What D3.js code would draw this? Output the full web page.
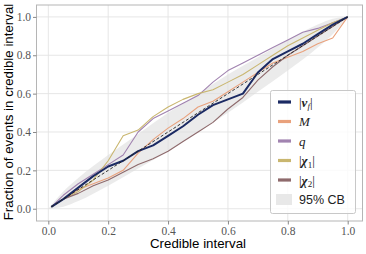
<!DOCTYPE html>
<html>
<head>
<meta charset="utf-8">
<script src="https://cdn.jsdelivr.net/npm/d3@7"></script>
<style>
  body { margin: 0; background: #fff; }
  svg { display: block; }
</style>
</head>
<body>
<script>
// credible interval grid
var xs = [0.01, 0.05, 0.10, 0.15, 0.20, 0.25, 0.30, 0.35, 0.40, 0.45, 0.50,
          0.55, 0.60, 0.65, 0.70, 0.75, 0.80, 0.85, 0.90, 0.95, 1.00];

// fraction of events for each parameter
var vf   = [0.01, 0.05, 0.11, 0.17, 0.22, 0.25, 0.30, 0.33, 0.38, 0.43, 0.49,
            0.54, 0.57, 0.60, 0.71, 0.78, 0.82, 0.86, 0.91, 0.96, 1.00];
var mass = [0.01, 0.05, 0.10, 0.13, 0.16, 0.20, 0.29, 0.36, 0.42, 0.47, 0.53,
            0.56, 0.61, 0.66, 0.71, 0.76, 0.79, 0.82, 0.86, 0.89, 1.00];
var q    = [0.01, 0.07, 0.13, 0.18, 0.23, 0.28, 0.40, 0.47, 0.51, 0.55, 0.59,
            0.66, 0.72, 0.76, 0.80, 0.84, 0.88, 0.92, 0.94, 0.97, 1.00];
var chi1 = [0.01, 0.05, 0.09, 0.15, 0.25, 0.38, 0.41, 0.48, 0.53, 0.57, 0.60,
            0.62, 0.66, 0.70, 0.75, 0.80, 0.85, 0.89, 0.93, 0.97, 1.00];
var chi2 = [0.01, 0.05, 0.08, 0.12, 0.15, 0.19, 0.23, 0.26, 0.30, 0.35, 0.40,
            0.45, 0.52, 0.58, 0.67, 0.74, 0.80, 0.85, 0.90, 0.95, 1.00];

// 95% credible band
var bandX     = [0.00, 0.05, 0.10, 0.20, 0.30, 0.40, 0.50, 0.60, 0.70, 0.80, 0.90, 0.95, 1.00];
var bandLower = [0.00, 0.01, 0.04, 0.12, 0.21, 0.30, 0.40, 0.50, 0.61, 0.72, 0.84, 0.91, 1.00];
var bandUpper = [0.00, 0.09, 0.16, 0.28, 0.39, 0.50, 0.60, 0.70, 0.79, 0.88, 0.96, 0.99, 1.00];

var ticks = [0.0, 0.2, 0.4, 0.6, 0.8, 1.0];
var seriesColors = ["#1b2a63", "#e9a17c", "#a183b0", "#c9b66f", "#8e6a6c"];

var series = [
  { values: vf,   color: seriesColors[0], width: 2.0 },
  { values: mass, color: seriesColors[1], width: 1.1 },
  { values: q,    color: seriesColors[2], width: 1.1 },
  { values: chi1, color: seriesColors[3], width: 1.1 },
  { values: chi2, color: seriesColors[4], width: 1.1 }
];

var width = 366, height = 254;

var svg = d3.select("body").append("svg")
  .attr("width", width)
  .attr("height", height);

var x = d3.scaleLinear().domain([-0.0395, 1.0495]).range([36.5, 362.5]);
var y = d3.scaleLinear().domain([-0.064, 1.062]).range([221, 5]);

// grid
svg.append("g").selectAll("line.gx")
  .data(ticks).enter().append("line")
    .attr("x1", function(d) { return x(d); })
    .attr("x2", function(d) { return x(d); })
    .attr("y1", y.range()[0]).attr("y2", y.range()[1])
    .attr("stroke", "#e3e3e3").attr("stroke-width", 0.9);
svg.append("g").selectAll("line.gy")
  .data(ticks).enter().append("line")
    .attr("y1", function(d) { return y(d); })
    .attr("y2", function(d) { return y(d); })
    .attr("x1", x.range()[0]).attr("x2", x.range()[1])
    .attr("stroke", "#e3e3e3").attr("stroke-width", 0.9);

// band
var area = d3.area()
  .x(function(d, i) { return x(bandX[i]); })
  .y0(function(d, i) { return y(bandLower[i]); })
  .y1(function(d, i) { return y(bandUpper[i]); })
  .curve(d3.curveMonotoneX);
svg.append("path")
  .datum(bandX)
  .attr("d", area)
  .attr("fill", "#dedede")
  .attr("fill-opacity", 0.6);

// lines, navy on top
var line = d3.line()
  .x(function(d, i) { return x(xs[i]); })
  .y(function(d) { return y(d); });

var drawOrder = [1, 2, 3, 4, 0];
drawOrder.forEach(function(k) {
  svg.append("path")
    .datum(series[k].values)
    .attr("d", line)
    .attr("fill", "none")
    .attr("stroke", series[k].color)
    .attr("stroke-width", series[k].width)
    .attr("stroke-linejoin", "round");
});

// diagonal
svg.append("line")
  .attr("x1", x(0.01)).attr("y1", y(0.01))
  .attr("x2", x(1)).attr("y2", y(1))
  .attr("stroke", "#222").attr("stroke-width", 0.9)
  .attr("stroke-dasharray", "3,2");

// frame
svg.append("rect")
  .attr("x", x.range()[0]).attr("y", y.range()[1])
  .attr("width", x.range()[1] - x.range()[0])
  .attr("height", y.range()[0] - y.range()[1])
  .attr("fill", "none").attr("stroke", "#b5b5b5").attr("stroke-width", 1);

// axes
var xAxis = d3.axisBottom(x).tickValues(ticks).tickSize(3.5).tickPadding(2)
  .tickFormat(d3.format(".1f"));
var yAxis = d3.axisLeft(y).tickValues(ticks).tickSize(3.5).tickPadding(2)
  .tickFormat(d3.format(".1f"));

var gx = svg.append("g").attr("transform", "translate(0," + y.range()[0] + ")").call(xAxis);
var gy = svg.append("g").attr("transform", "translate(" + x.range()[0] + ",0)").call(yAxis);
[gx, gy].forEach(function(g) {
  g.select(".domain").remove();
  g.selectAll(".tick line").attr("stroke", "#888");
  g.selectAll(".tick text")
    .attr("fill", "#555")
    .style("font-family", "'Liberation Serif', 'DejaVu Serif', serif")
    .style("font-size", "11.5px");
});

svg.append("text")
  .attr("x", 198).attr("y", 248)
  .attr("text-anchor", "middle")
  .style("font-family", "'Liberation Sans', Arial, sans-serif")
  .style("font-size", "13.3px")
  .text("Credible interval");

svg.append("text")
  .attr("transform", "translate(13," + 112 + ") rotate(-90)")
  .attr("text-anchor", "middle")
  .style("font-family", "'Liberation Sans', Arial, sans-serif")
  .style("font-size", "13.3px")
  .text("Fraction of events in credible interval");

// legend
var legend = svg.append("g");
legend.append("rect")
  .attr("x", 270.5).attr("y", 90.5)
  .attr("width", 85).attr("height", 123)
  .attr("rx", 2)
  .attr("fill", "#fff").attr("fill-opacity", 0.8)
  .attr("stroke", "#c8c8c8").attr("stroke-width", 1);

var rowY = [102, 121.5, 141, 160.5, 180, 199.5];
var serif = "'Liberation Serif', 'DejaVu Serif', serif";

series.forEach(function(s, i) {
  legend.append("line")
    .attr("x1", 278).attr("x2", 291)
    .attr("y1", rowY[i]).attr("y2", rowY[i])
    .attr("stroke", s.color).attr("stroke-width", 3.2);
});

// math labels: [text, bold, subscript]
var legendLabels = [
  { bars: true,  main: "v", sub: "f", bold: true },
  { bars: false, main: "M", sub: "",  bold: false },
  { bars: false, main: "q", sub: "",  bold: false },
  { bars: true,  main: "\u03c7", sub: "1", bold: true },
  { bars: true,  main: "\u03c7", sub: "2", bold: true }
];

legendLabels.forEach(function(l, i) {
  var t = legend.append("text")
    .attr("x", 299).attr("y", rowY[i] + 4.5)
    .style("font-family", serif)
    .style("font-size", "13px")
    .attr("fill", "#222");
  if (l.bars) t.append("tspan").text("|");
  t.append("tspan")
    .style("font-style", "italic")
    .style("font-weight", l.bold ? "bold" : "normal")
    .text(l.main);
  if (l.sub) {
    t.append("tspan")
      .attr("dy", 2.5)
      .style("font-size", "9px")
      .style("font-style", l.sub === "f" ? "italic" : "normal")
      .text(l.sub);
    t.append("tspan").attr("dy", -2.5).text("|");
  } else if (l.bars) {
    t.append("tspan").text("|");
  }
});

legend.append("rect")
  .attr("x", 276).attr("y", rowY[5] - 5.5)
  .attr("width", 16).attr("height", 11)
  .attr("fill", "#e8e8e8");
legend.append("text")
  .attr("x", 299).attr("y", rowY[5] + 4.5)
  .style("font-family", "'Liberation Sans', Arial, sans-serif")
  .style("font-size", "12.5px")
  .attr("fill", "#222")
  .text("95% CB");
</script>
</body>
</html>
